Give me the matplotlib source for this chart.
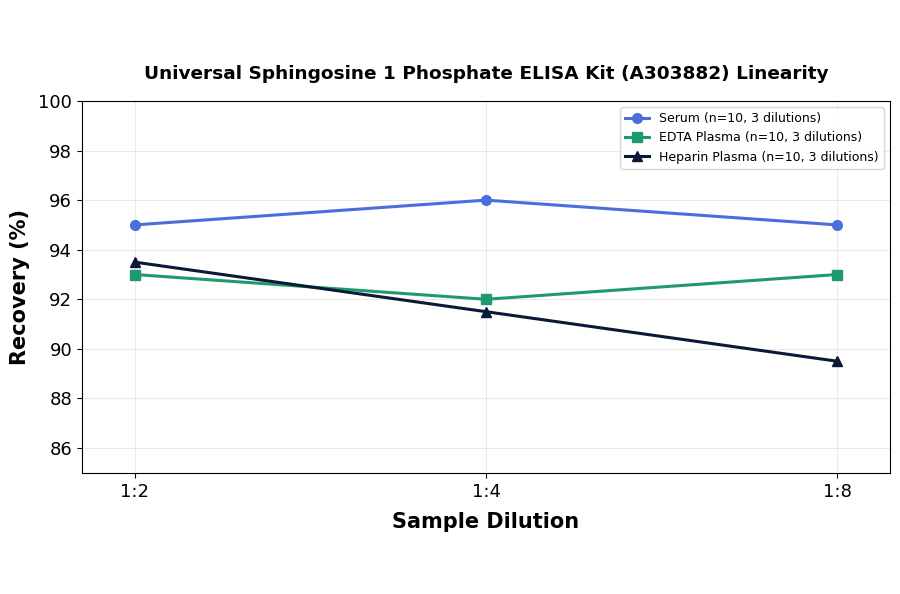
import matplotlib
matplotlib.use("Agg")
import matplotlib.pyplot as plt

# données
dilutions = ["1:2", "1:4", "1:8"]
serum = [95.0, 96.0, 95.0]
edta = [93.0, 92.0, 93.0]
heparin = [93.5, 91.5, 89.5]

fig, ax = plt.subplots(figsize=(9, 5.94), dpi=100)
fig.subplots_adjust(left=0.091, right=0.989, top=0.83, bottom=0.204)

x = range(len(dilutions))
ax.plot(x, serum, color="#4a6fdc", marker="o", markersize=7, linewidth=2.2,
        label="Serum (n=10, 3 dilutions)")
ax.plot(x, edta, color="#1f9a70", marker="s", markersize=7, linewidth=2.2,
        label="EDTA Plasma (n=10, 3 dilutions)")
ax.plot(x, heparin, color="#0c1838", marker="^", markersize=7, linewidth=2.2,
        label="Heparin Plasma (n=10, 3 dilutions)")

ax.set_xticks(list(x))
ax.set_xticklabels(dilutions)
ax.set_xlim(-0.15, 2.15)
ax.set_ylim(85, 100)
ax.set_yticks(range(86, 101, 2))
ax.tick_params(labelsize=13)
ax.grid(True, linestyle="-", alpha=0.3, linewidth=0.6)

ax.set_xlabel("Sample Dilution", fontsize=15, fontweight="bold", labelpad=8)
ax.set_ylabel("Recovery (%)", fontsize=15, fontweight="bold", labelpad=6)
ax.set_title("Universal Sphingosine 1 Phosphate ELISA Kit (A303882) Linearity",
             fontsize=13.3, fontweight="bold", pad=16)
ax.legend(loc="upper right", fontsize=9, handlelength=1.9)

plt.savefig("out.png", dpi=100)
plt.close()
